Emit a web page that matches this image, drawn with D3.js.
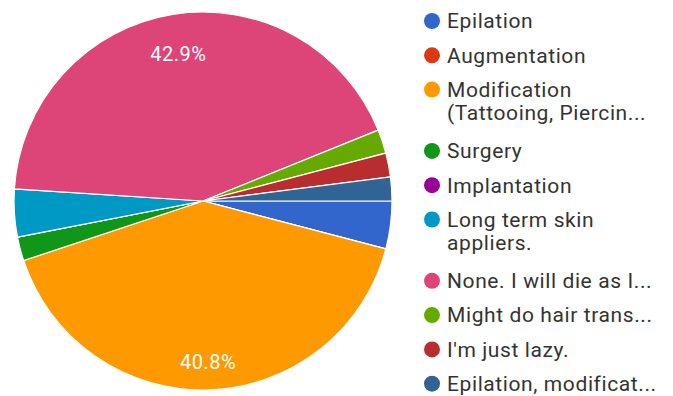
<!DOCTYPE html>
<html>
<head>
<meta charset="utf-8">
<script src="https://cdn.jsdelivr.net/npm/d3@7"></script>
<style>
  html, body { margin: 0; padding: 0; background: #fff; }
  svg { display: block; }
</style>
</head>
<body>
<svg id="chart" width="673" height="396"></svg>
<script>
const categories = [
  "Epilation",
  "Augmentation",
  "Modification (Tattooing, Piercing, etc.)",
  "Surgery",
  "Implantation",
  "Long term skin appliers.",
  "None. I will die as I was born",
  "Might do hair transplant",
  "I'm just lazy.",
  "Epilation, modification"
];
const legendLines = [
  ["Epilation"],
  ["Augmentation"],
  ["Modification", "(Tattooing, Piercin..."],
  ["Surgery"],
  ["Implantation"],
  ["Long term skin", "appliers."],
  ["None. I will die as I..."],
  ["Might do hair trans..."],
  ["I'm just lazy."],
  ["Epilation, modificat..."]
];
const values = [2, 0, 20, 1, 0, 2, 21, 1, 1, 1];
const colors = ["#3366cc", "#dc3912", "#ff9900", "#109618", "#990099",
                "#0099c6", "#dd4477", "#66aa00", "#b82e2e", "#316395"];

const svg = d3.select("#chart");
const cx = 203, cy = 201, r = 189;
const total = d3.sum(values);

const pie = d3.pie().sort(null).value(d => d)
  .startAngle(Math.PI / 2).endAngle(Math.PI / 2 + 2 * Math.PI);
const arcs = pie(values);
const arc = d3.arc().innerRadius(0).outerRadius(r);
const labelArc = d3.arc().innerRadius(r * 0.82).outerRadius(r * 0.82);

const g = svg.append("g").attr("transform", `translate(${cx},${cy})`);
g.selectAll("path").data(arcs).join("path")
  .attr("d", arc)
  .attr("fill", (d, i) => colors[i])
  .attr("stroke", "#fff")
  .attr("stroke-width", 1.2);

g.selectAll("text.pct").data(arcs.filter(d => d.value / total > 0.1)).join("text")
  .attr("class", "pct")
  .attr("transform", d => {
    const [x, yy] = labelArc.centroid(d);
    return `translate(${x},${yy + 6})`;
  })
  .attr("text-anchor", "middle")
  .attr("dy", "0.35em")
  .attr("fill", "#fff")
  .style("font-family", "Roboto, Arial, sans-serif")
  .style("font-size", "20px")
  .style("letter-spacing", "0.5px")
  .text(d => (d.value / total * 100).toFixed(1) + "%");

// legend
const lg = svg.append("g");
const step = 34.3, wrapGap = 23, wrapExtra = 27;
let y = 21;
legendLines.forEach((lines, i) => {
  lg.append("circle").attr("cx", 432).attr("cy", y).attr("r", 8).attr("fill", colors[i]);
  lines.forEach((t, j) => {
    lg.append("text")
      .attr("x", 447).attr("y", y + j * wrapGap)
      .attr("dy", "0.35em")
      .attr("fill", "#333")
      .style("font-family", "Roboto, Arial, sans-serif")
      .style("font-size", "21px")
      .style("letter-spacing", "0.6px")
      .text(t);
  });
  y += step + (lines.length > 1 ? wrapExtra : 0);
});
</script>
</body>
</html>
